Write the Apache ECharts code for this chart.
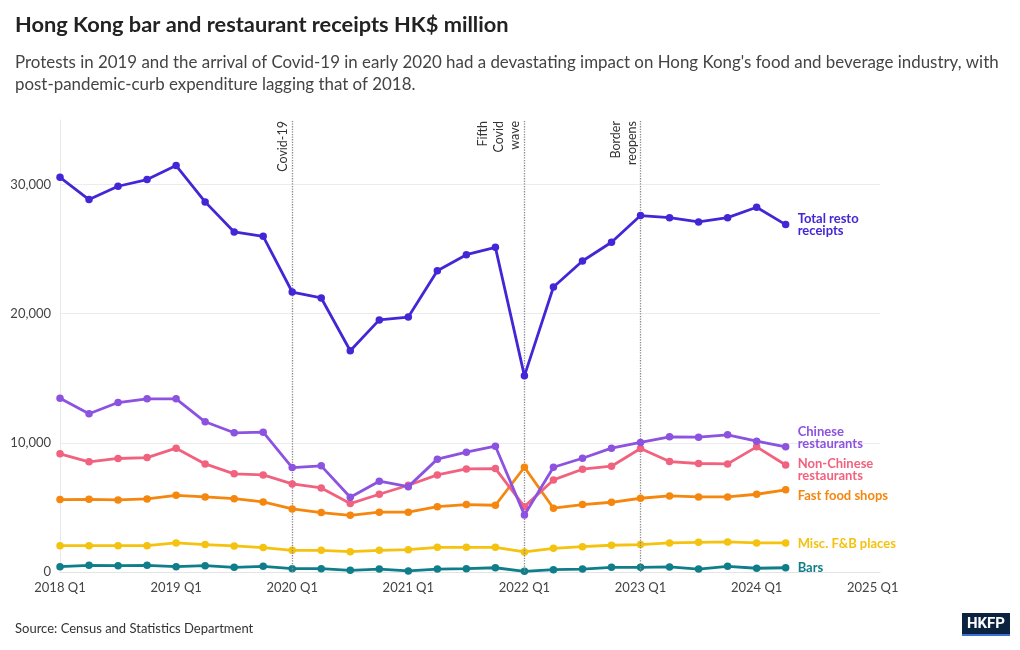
<!DOCTYPE html>
<html>
<head>
<meta charset="utf-8">
<script src="https://cdn.jsdelivr.net/npm/echarts@6/dist/echarts.min.js"></script>
<style>
html,body{margin:0;padding:0;background:#fff;}
#chart{width:1020px;height:650px;}
</style>
</head>
<body>
<div id="chart"></div>
<script>
// ---- data ----
const quarters = ['2018 Q1','2018 Q2','2018 Q3','2018 Q4','2019 Q1','2019 Q2','2019 Q3','2019 Q4',
  '2020 Q1','2020 Q2','2020 Q3','2020 Q4','2021 Q1','2021 Q2','2021 Q3','2021 Q4',
  '2022 Q1','2022 Q2','2022 Q3','2022 Q4','2023 Q1','2023 Q2','2023 Q3','2023 Q4','2024 Q1','2024 Q2'];
const tickLabels = ['2018 Q1','2019 Q1','2020 Q1','2021 Q1','2022 Q1','2023 Q1','2024 Q1','2025 Q1'];

const totalResto = [30560,28840,29870,30390,31470,28660,26330,25990,21680,21220,17130,19520,19740,23330,24570,25140,15190,22070,24080,25530,27600,27440,27110,27440,28240,26900];
const chineseRest = [13460,12250,13120,13410,13410,11630,10780,10830,8090,8220,5790,7030,6610,8740,9280,9740,4420,8110,8810,9590,10030,10470,10440,10620,10130,9690];
const nonChineseRest = [9150,8530,8790,8860,9590,8370,7600,7520,6820,6510,5300,6020,6720,7520,7980,8010,5060,7130,7960,8190,9560,8550,8400,8370,9690,8290];
const fastFood = [5610,5630,5580,5660,5940,5810,5680,5430,4880,4600,4390,4630,4630,5060,5220,5170,8110,4940,5220,5400,5710,5890,5810,5810,6020,6360];
const miscFB = [2040,2040,2040,2040,2250,2120,2020,1890,1680,1680,1570,1680,1730,1910,1910,1910,1550,1830,1960,2070,2120,2250,2300,2330,2250,2250];
const barsData = [410,520,490,520,410,490,360,440,260,260,130,230,80,230,260,330,50,180,230,360,360,390,230,440,290,330];

const events = [
  {q: '2020 Q1', text: 'Covid-19'},
  {q: '2022 Q1', text: 'Fifth\nCovid\nwave'},
  {q: '2023 Q1', text: 'Border\nreopens'}
];

const FONT = 'Lato, "Noto Sans", sans-serif';

function pairs(arr){ return arr.map((v,i)=>[i, v]); }

const seriesDefs = [
  {name:'Total resto\nreceipts', data: totalResto, color:'#4327d6', off:[0,0], z:8},
  {name:'Chinese\nrestaurants', data: chineseRest, color:'#8c52e0', off:[0,-9], z:7},
  {name:'Non-Chinese\nrestaurants', data: nonChineseRest, color:'#f1627f', off:[0,5], z:6},
  {name:'Fast food shops', data: fastFood, color:'#f5860e', off:[0,6], z:5},
  {name:'Misc. F&B places', data: miscFB, color:'#f4c20f', off:[0,1], z:4},
  {name:'Bars', data: barsData, color:'#0f7e8a', off:[0,0], z:3}
];

const series = seriesDefs.map((s, idx) => {
  const o = {
    type:'line', name:s.name, data: pairs(s.data), z:s.z,
    symbol:'circle', symbolSize:7.5, showSymbol:true,
    lineStyle:{color:s.color, width:2.8},
    itemStyle:{color:s.color},
    animation:false,
    endLabel:{
      show:true, formatter:s.name, color:s.color, fontFamily:FONT,
      fontWeight:'bold', fontSize:13, lineHeight:12.5, distance:12, offset:s.off
    }
  };
  if (idx === 0) {
    o.markLine = {
      silent:true, symbol:['none','none'], animation:false,
      lineStyle:{color:'#8a8a8a', type:'dotted', width:1.3},
      label:{position:'insideEndTop', color:'#333', fontFamily:FONT, fontSize:12.5, lineHeight:16, distance:1},
      data: events.map(e => ({xAxis: quarters.indexOf(e.q), label:{formatter:e.text}}))
    };
  }
  return o;
});

const chart = echarts.init(document.getElementById('chart'), null, {renderer:'canvas'});
chart.setOption({
  backgroundColor:'#fff',
  animation:false,
  title:[
    {text:'Hong Kong bar and restaurant receipts HK$ million', left:10, top:9,
     textStyle:{fontFamily:FONT, fontWeight:'bold', fontSize:21.8, color:'#222'}},
    {text:"Protests in 2019 and the arrival of Covid-19 in early 2020 had a devastating impact on Hong Kong's food and beverage industry, with\npost-pandemic-curb expenditure lagging that of 2018.",
     left:10, top:47,
     textStyle:{fontFamily:FONT, fontWeight:'normal', fontSize:16.9, lineHeight:22, color:'#444'}},
    {text:'Source: Census and Statistics Department', left:10, top:617,
     textStyle:{fontFamily:FONT, fontWeight:'normal', fontSize:13, color:'#333'}}
  ],
  grid:{left:60, right:140, top:120, bottom:78, containLabel:false},
  xAxis:{
    type:'value', min:0, max:28.25, interval:4,
    axisLine:{show:true, lineStyle:{color:'#e4e4e4'}},
    axisTick:{show:false},
    splitLine:{show:false},
    axisLabel:{
      color:'#444', fontFamily:FONT, fontSize:13, margin:9,
      formatter:v => (v % 4 === 0 ? tickLabels[v/4] : '')
    }
  },
  yAxis:{
    type:'value', min:0, max:35000, interval:10000,
    axisLine:{show:true, lineStyle:{color:'#e8e8e8'}},
    axisTick:{show:false},
    splitLine:{show:true, lineStyle:{color:['#ececec','#ececec','#ececec','#ececec','rgba(0,0,0,0)'], width:1}},
    axisLabel:{
      color:'#444', fontFamily:FONT, fontSize:13, margin:9,
      formatter:v => (v % 10000 === 0 ? v.toLocaleString('en-US') : '')
    }
  },
  graphic:[
    {type:'group', right:10, top:613, children:[
      {type:'rect', shape:{x:0,y:0,width:48,height:23}, style:{fill:'#0c2340'}},
      {type:'rect', shape:{x:0,y:21,width:48,height:2}, style:{fill:'#3a6fd8'}},
      {type:'text', x:24, y:11.5, style:{text:'HKFP', fill:'#fff', font:'bold 15px "Liberation Sans Narrow", Roboto, sans-serif', align:'center', verticalAlign:'middle'}}
    ]}
  ],
  series: series
});
</script>
</body>
</html>
